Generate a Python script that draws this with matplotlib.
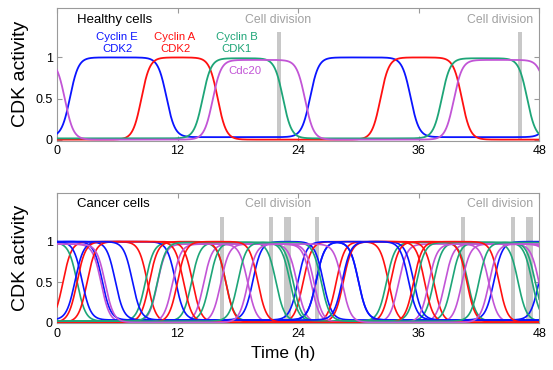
import numpy as np
import matplotlib
matplotlib.use("Agg")
import matplotlib.pyplot as plt

plt.rcParams['font.family'] = ['Liberation Sans', 'DejaVu Sans']

# ---------------- data ----------------
# switching windows (time at which each curve crosses 0.5 going up, going down)
healthy_E = [(1.3, 10.9), (25.2, 35.2), (49.3, 60.0)]
healthy_A = [(8.4, 16.0), (32.2, 40.3)]
healthy_B = [(14.5, 22.5), (38.3, 46.8)]
healthy_C = [(-10.0, 0.8), (15.5, 24.7), (39.5, 48.8)]
healthy_division = [22.1, 46.1]

cancer_E = [
    [(-4.0, 4.5), (19.5, 26.5), (43.5, 52.0)],
    [(-2.0, 5.8), (24.0, 30.0), (48.0, 55.0)],
    [(1.8, 11.8), (25.8, 35.5)],
    [(-3.0, 2.5), (25.8, 30.0)],
    [(-4.0, 7.5), (28.4, 35.0)],
]
cancer_A = [
    [(0.6, 9.0), (24.5, 33.0)],
    [(3.0, 13.5), (27.8, 37.5)],
    [(9.2, 16.8), (33.2, 40.8)],
    [(2.0, 12.6), (28.5, 36.6)],
    [(12.0, 20.0), (35.5, 44.0)],
]
cancer_B = [
    [(-5.0, 2.0), (8.8, 16.8), (32.8, 40.9)],
    [(13.4, 21.8), (37.5, 45.9)],
    [(15.2, 23.2), (39.3, 47.3)],
    [(10.0, 23.5), (35.8, 47.6)],
    [(18.0, 26.3), (42.0, 50.4)],
]
cancer_C = [
    [(-5.0, 4.4), (10.0, 19.0), (34.0, 43.0)],
    [(14.6, 23.9), (38.6, 48.0)],
    [(16.3, 25.3), (40.3, 49.4)],
    [(11.5, 25.6), (37.0, 49.7)],
    [(-5.0, 4.8), (19.0, 28.4), (43.0, 52.5)],
]
cancer_division = [16.4, 21.3, 22.75, 23.05, 25.9, 40.45, 45.4, 46.85, 47.15]

levels = {'E': (0.03, 1.0), 'A': (0.0, 1.0), 'B': (0.015, 0.99), 'C': (0.0, 0.97)}
colors = {'E': '#0a14ff', 'A': '#ff1010', 'B': '#1ea578', 'C': '#c255d6'}

xticks = [0, 12, 24, 36, 48]
yticks = [0, 0.5, 1]
yticklabels = ['0', '0.5', '1']

# ---------------------------------------------------------
t = np.linspace(0, 48, 2000)
steep = 0.42


def sig(x):
    return 1.0 / (1.0 + np.exp(-x))


def curve(windows, lo, hi):
    v = np.zeros_like(t)
    for r, f in windows:
        v += sig((t - r) / steep) * sig((f - t) / steep)
    return lo + (hi - lo) * np.clip(v, 0, 1)


fig = plt.figure(figsize=(5.53, 3.70), dpi=100)
ax1 = fig.add_axes([0.103, 0.620, 0.872, 0.358])
ax2 = fig.add_axes([0.103, 0.126, 0.872, 0.352])

gray_spine = '#9a9a9a'
bar_col = '#c8c8c8'


def style(ax):
    ax.set_xlim(0, 48)
    ax.set_ylim(-0.012, 1.6)
    ax.set_xticks(xticks)
    ax.set_yticks(yticks)
    ax.set_yticklabels(yticklabels)
    ax.tick_params(direction='in', length=3.5, width=0.8, color=gray_spine,
                   top=True, right=True, labelsize=9, pad=3)
    for s in ax.spines.values():
        s.set_color(gray_spine)
        s.set_linewidth(0.8)
    ax.set_ylabel('CDK activity', fontsize=14, labelpad=5)


# healthy
for d in healthy_division:
    ax1.bar(d, 1.31, width=0.4, bottom=0, color=bar_col, zorder=1)
for key, win in [('E', healthy_E), ('A', healthy_A), ('B', healthy_B), ('C', healthy_C)]:
    lo, hi = levels[key]
    ax1.plot(t, curve(win, lo, hi), color=colors[key], lw=1.3, zorder=3)
style(ax1)
ax1.set_xticklabels([str(x) for x in xticks])
ax1.text(2.0, 1.45, 'Healthy cells', fontsize=9.5, va='center', ha='left')
ax1.text(22.0, 1.45, 'Cell division', fontsize=8.8, color='#a0a0a0', va='center', ha='center')
ax1.text(47.4, 1.45, 'Cell division', fontsize=8.8, color='#a0a0a0', va='center', ha='right')
for x, top, bot, key in [(6.0, 'Cyclin E', 'CDK2', 'E'), (11.75, 'Cyclin A', 'CDK2', 'A'),
                         (17.9, 'Cyclin B', 'CDK1', 'B')]:
    ax1.text(x, 1.25, top, fontsize=8.2, color=colors[key], ha='center', va='center')
    ax1.text(x, 1.10, bot, fontsize=8.2, color=colors[key], ha='center', va='center')
ax1.text(18.7, 0.83, 'Cdc20', fontsize=8.2, color=colors['C'], ha='center', va='center')

# cancer
for d in cancer_division:
    ax2.bar(d, 1.31, width=0.4, bottom=0, color=bar_col, zorder=1)
for i in range(5):
    for key, lst in [('E', cancer_E), ('A', cancer_A), ('B', cancer_B), ('C', cancer_C)]:
        lo, hi = levels[key]
        ax2.plot(t, curve(lst[i], lo, hi), color=colors[key], lw=1.2, zorder=3)
style(ax2)
ax2.set_xticklabels([str(x) for x in xticks])
ax2.text(2.0, 1.46, 'Cancer cells', fontsize=9.5, va='center', ha='left')
ax2.text(22.0, 1.46, 'Cell division', fontsize=8.8, color='#a0a0a0', va='center', ha='center')
ax2.text(47.4, 1.46, 'Cell division', fontsize=8.8, color='#a0a0a0', va='center', ha='right')
ax2.set_xlabel('Time (h)', fontsize=12.5, labelpad=3)
ax2.xaxis.set_label_coords(0.47, -0.17)

fig.savefig('out.png', dpi=100)
